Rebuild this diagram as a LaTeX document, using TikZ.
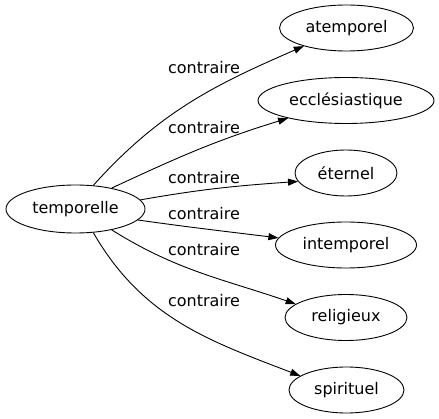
\documentclass[tikz,border=0pt]{standalone}
\usepackage{fontspec}
\setmainfont{DejaVu Sans}
\usetikzlibrary{shapes.geometric,arrows.meta}
\begin{document}
\begin{tikzpicture}[x=1pt,y=1pt,
  oval/.style={ellipse, draw, line width=0.9pt, inner sep=0pt, minimum height=46pt, font=\fontsize{16}{18}\selectfont},
  lab/.style={inner sep=0pt, font=\fontsize{16}{18}\selectfont},
  arr/.style={line width=0.9pt, -{Triangle[length=10pt,width=7pt]}}]
\useasboundingbox (0,0) rectangle (439,-419);
\node[oval, minimum width=139pt, minimum height=48pt] (t) at (75.5,-209) {temporelle};
\node[oval, minimum width=134pt] (a1) at (346.5,-28) {atemporel};
\node[oval, minimum width=176pt] (a2) at (346,-100.5) {ecclésiastique};
\node[oval, minimum width=102pt] (a3) at (346,-173) {éternel};
\node[oval, minimum width=141pt] (a4) at (346,-245) {intemporel};
\node[oval, minimum width=122pt] (a5) at (346,-317.5) {religieux};
\node[oval, minimum width=115pt] (a6) at (346.5,-390) {spirituel};
\draw[arr] (t.53) to[out=48,in=203.5] (a1.203.5);
\draw[arr] (t.30) to[out=25,in=197] (a2.197);
\draw[arr] (t.8) to[out=10,in=184] (a3.190);
\draw[arr] (t.-10) to[out=-8,in=173] (a4.174);
\draw[arr] (t.-30) to[out=-32,in=161] (a5.165);
\draw[arr] (t.-53) to[out=-60,in=159] (a6.163);
\node[lab] (l1) at (204,-68) {contraire};
\node[lab] (l2) at (204,-128) {contraire};
\node[lab] (l3) at (204,-178) {contraire};
\node[lab] (l4) at (204,-214) {contraire};
\node[lab] (l5) at (204,-250) {contraire};
\node[lab] (l6) at (204,-301) {contraire};
\end{tikzpicture}
\end{document}
